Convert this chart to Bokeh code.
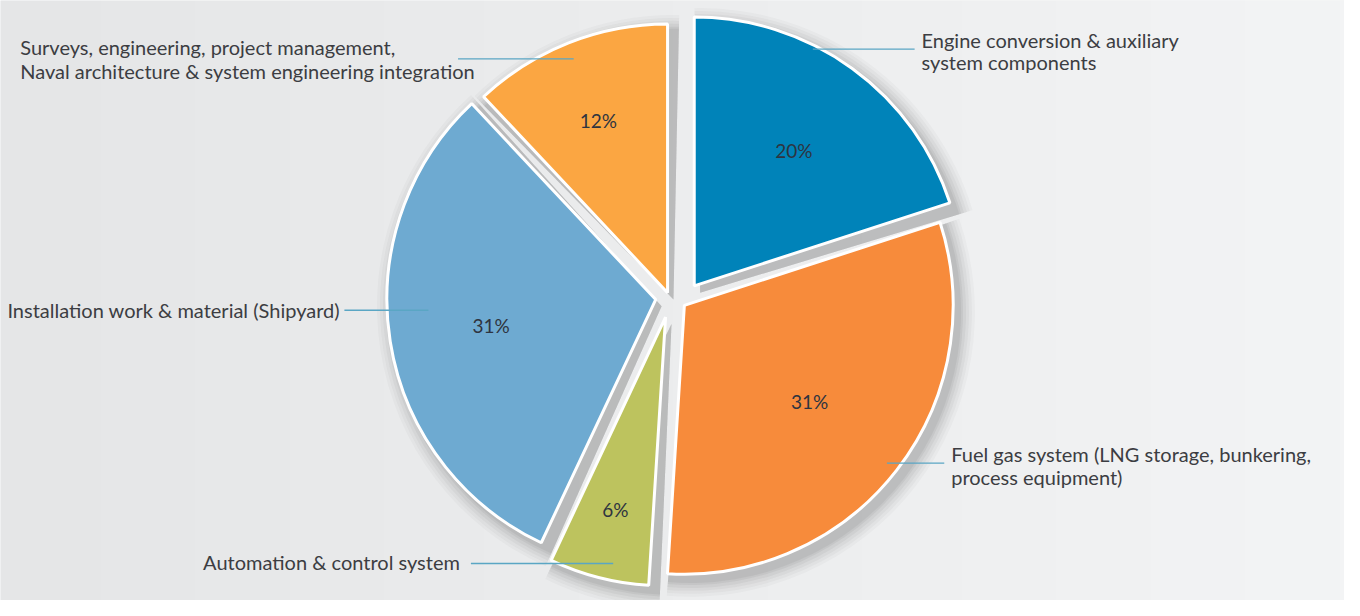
import numpy as np
from bokeh.plotting import figure
from bokeh.models import Range1d, ColumnDataSource
from bokeh.embed import file_html
from bokeh.resources import INLINE
from bokeh.core.properties import value

# ---------------- data ----------------
categories = [
    "Engine conversion & auxiliary system components",
    "Fuel gas system (LNG storage, bunkering, process equipment)",
    "Automation & control system",
    "Installation work & material (Shipyard)",
    "Surveys, engineering, project management, Naval architecture & system engineering integration",
]
shares = [20, 31, 6, 31, 12]
pct_labels = ["20%", "31%", "6%", "31%", "12%"]
label_lines = [
    ["Engine conversion & auxiliary", "system components"],
    ["Fuel gas system (LNG storage, bunkering,", "process equipment)"],
    ["Automation & control system"],
    ["Installation work & material (Shipyard)"],
    ["Surveys, engineering, project management,", "Naval architecture & system engineering integration"],
]
colors = ["#0083B9", "#F78B3B", "#BDC35E", "#6EAAD1", "#FBA642"]

# ---------------- layout ----------------
W, H = 1344, 600          # figure size in screen px
DW, DH = 1360, 616        # data space = reference picture px
def X(px): return px
def Y(py): return DH - py

CX, CY = X(680), Y(308)
R = 272
explode = [(22, 15), (12, -5), (-7, -17), (-17, 1), (-5, 8)]
pct_frac = [0.63, 0.59, 0.75, 0.62, 0.70]
# leader lines (reference px): x0, x1, y
leaders = [(822, 925, 50), (897, 955, 475), (476, 620, 578), (348, 433, 318), (463, 580, 60)]
# text anchors (reference px): x, list of line y's
text_pos = [(932, [41, 63]), (962, [466, 489]), (205, [576]), (7, [318]), (20, [48, 72])]

vals = np.array(shares, dtype=float)
cum = np.cumsum(vals) / vals.sum()
prev = np.concatenate([[0], cum[:-1]])
a_start = np.pi / 2 - prev * 2 * np.pi
a_end = np.pi / 2 - cum * 2 * np.pi
mid = (a_start + a_end) / 2

xs = np.array([CX + e[0] for e in explode], dtype=float)
ys = np.array([CY + e[1] for e in explode], dtype=float)

p = figure(width=W, height=H, output_backend="svg", toolbar_location=None,
           x_range=Range1d(0, DW), y_range=Range1d(0, DH), min_border=0)
p.axis.visible = False
p.grid.visible = False
p.outline_line_color = None
p.background_fill_color = "#ECEDEE"
p.border_fill_color = "#ECEDEE"

# background gradient
ncol = 256
g = np.linspace(229, 243, ncol)
img = np.zeros((1, ncol), dtype=np.uint32)
view = img.view(dtype=np.uint8).reshape((1, ncol, 4))
view[0, :, 0] = g.astype(np.uint8)
view[0, :, 1] = (g + 1).astype(np.uint8)
view[0, :, 2] = (g + 2).astype(np.uint8)
view[0, :, 3] = 255
p.image_rgba(image=[img], x=0, y=0, dw=DW, dh=DH)

# soft shadow
for dr, a in [(16, 0.03), (13, 0.04), (10, 0.05), (7, 0.06), (4, 0.07), (2, 0.08)]:
    p.wedge(x=xs + 6, y=ys - 7, radius=R + dr, start_angle=a_end - 0.02, end_angle=a_start + 0.02,
            fill_color="#4a4a4a", fill_alpha=a, line_color=None)

src = ColumnDataSource(dict(x=xs, y=ys, s=a_end, e=a_start, c=colors))
p.wedge(x="x", y="y", radius=R, start_angle="s", end_angle="e", fill_color="c",
        line_color="white", line_width=3, source=src)

# percentage labels
lx = xs + np.array(pct_frac) * R * np.cos(mid)
ly = ys + np.array(pct_frac) * R * np.sin(mid)
p.text(x=lx, y=ly, text=pct_labels, text_align="center", text_baseline="middle",
       text_font=value("Lato"), text_font_size="19px", text_color="#2E3440")

# leader lines
for (x0, x1, yy) in leaders:
    p.line(x=[X(x0), X(x1)], y=[Y(yy), Y(yy)], line_color="#5AA6C4", line_width=1.3)

# category labels
tx, ty, tt = [], [], []
for (px_, ylist), lines in zip(text_pos, label_lines):
    for yy, t in zip(ylist, lines):
        tx.append(X(px_)); ty.append(Y(yy)); tt.append(t)
p.text(x=tx, y=ty, text=tt, text_align="left", text_baseline="middle",
       text_font=value("Lato"), text_font_size="20px", text_color="#3C3D42")

open("out.html", "w").write(file_html(p, INLINE))
